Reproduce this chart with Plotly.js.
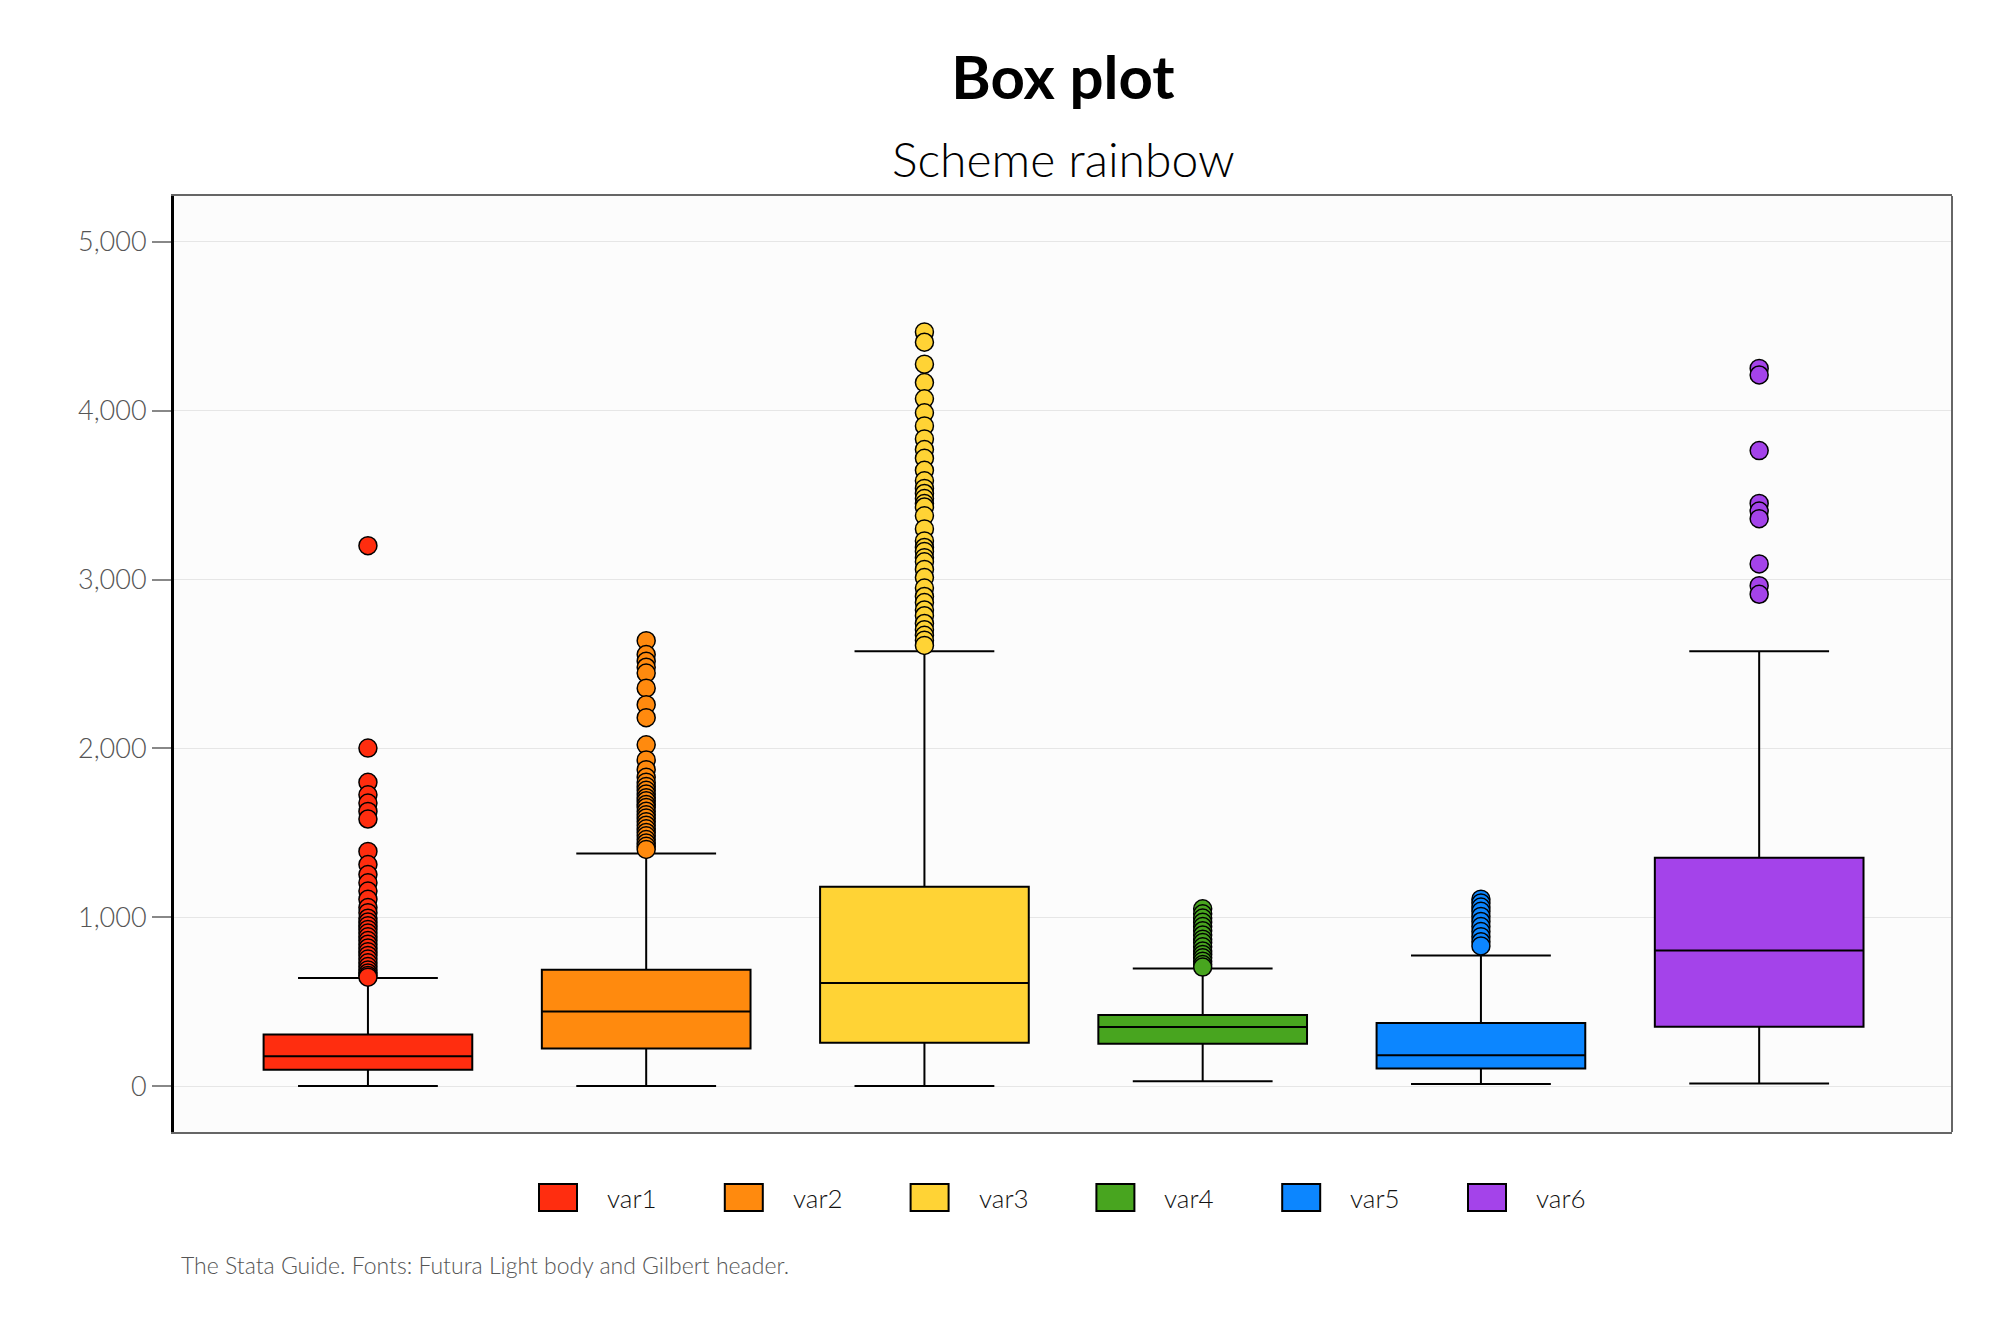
<!DOCTYPE html>
<html>
<head>
<meta charset="utf-8">
<script src="https://cdn.plot.ly/plotly-3.0.1.min.js"></script>
<style>html,body{margin:0;padding:0;background:#fff;}#chart{width:2000px;height:1333px;}</style>
</head>
<body>
<div id="chart"></div>
<script>
// Categories and colours
var categories = ['var1', 'var2', 'var3', 'var4', 'var5', 'var6'];
var colors = ['#FF2D0F', '#FF8A0E', '#FFD335', '#48A51F', '#0C86FF', '#A443EA'];

// Box statistics
var lowerFence = [0, 0, 0, 28, 12, 15];
var q1Values = [97, 222, 257, 251, 104, 352];
var medianValues = [177, 442, 610, 350, 182, 803];
var q3Values = [305, 689, 1180, 421, 373, 1352];
var upperFence = [640, 1377, 2576, 697, 773, 2576];

// Outside values
var outliers1 = [3201, 2002, 1799, 1725, 1676, 1627, 1582, 1390, 1312, 1253, 1204, 1155, 1106, 1057, 1027,
  994, 972, 950, 928, 906, 884, 862, 840, 818, 796, 774, 752, 730, 708, 688, 670, 655, 645];
var outliers2 = [2638, 2556, 2516, 2481, 2446, 2357, 2259, 2182, 2021, 1932, 1874, 1829, 1800, 1775, 1752,
  1730, 1708, 1690, 1668, 1650, 1628, 1607, 1588, 1566, 1545, 1524, 1502, 1482, 1460, 1440, 1420, 1402];
var outliers3 = [4467, 4406, 4276, 4167, 4071, 3988, 3910, 3833, 3770, 3718, 3647, 3585, 3540, 3510, 3480,
  3450, 3430, 3378, 3300, 3229, 3190, 3167, 3130, 3105, 3060, 3012, 2950, 2900, 2864, 2820, 2786, 2740,
  2703, 2670, 2641, 2610];
var outliers4 = [1050, 1020, 995, 970, 945, 920, 895, 870, 850, 825, 800, 780, 760, 740, 720, 705];
var outliers5 = [1107, 1085, 1060, 1035, 1005, 975, 945, 915, 885, 855, 830];
var outliers6 = [4251, 4212, 3764, 3451, 3406, 3361, 3093, 2964, 2913];
var outlierSets = [outliers1, outliers2, outliers3, outliers4, outliers5, outliers6];

// Axis ticks
var yTickValues = [0, 1000, 2000, 3000, 4000, 5000];
var yTickLabels = ['0', '1,000', '2,000', '3,000', '4,000', '5,000'];

var FONT = 'Lato, "Open Sans", sans-serif';

// Page geometry (pixels)
var W = 2000, H = 1333;
var M = { l: 174, r: 48, t: 196, b: 201 };
var plotW = W - M.l - M.r, plotH = H - M.t - M.b;
function px2x(px) { return (px - M.l) / plotW; }
function py2y(py) { return (H - M.b - py) / plotH; }

var traces = [];
categories.forEach(function (cat, i) {
  traces.push({
    type: 'box',
    name: cat,
    x: [cat],
    q1: [q1Values[i]],
    median: [medianValues[i]],
    q3: [q3Values[i]],
    lowerfence: [lowerFence[i]],
    upperfence: [upperFence[i]],
    boxpoints: false,
    width: 0.75,
    whiskerwidth: 0.67,
    fillcolor: colors[i],
    line: { color: '#000000', width: 2 },
    marker: { color: colors[i] },
    hoverinfo: 'skip',
    showlegend: false
  });
});
categories.forEach(function (cat, i) {
  traces.push({
    type: 'scatter',
    mode: 'markers',
    x: outlierSets[i].map(function () { return cat; }),
    y: outlierSets[i],
    marker: { symbol: 'circle', size: 18, color: colors[i], line: { color: '#000000', width: 1.5 } },
    showlegend: false,
    hoverinfo: 'skip'
  });
});

// Legend (drawn as layout decoration from categories/colors)
var shapes = [
  { type: 'line', xref: 'paper', yref: 'paper', x0: 1, x1: 1, y0: 0, y1: 1,
    line: { color: '#666666', width: 2 } }
];
var annotations = [
  { text: 'Scheme rainbow', xref: 'paper', yref: 'paper', x: 0.5, y: py2y(159),
    xanchor: 'center', yanchor: 'middle', showarrow: false,
    font: { family: FONT, size: 48, color: '#000', weight: 300 } },
  { text: 'The Stata Guide. Fonts: Futura Light body and Gilbert header.', xref: 'paper', yref: 'paper',
    x: px2x(179), y: py2y(1265), xanchor: 'left', yanchor: 'middle', showarrow: false,
    font: { family: FONT, size: 23, color: '#555555', weight: 300 } }
];
var legStart = 539, legStep = 185.8, swW = 38, swTop = 1184, swBot = 1211;
categories.forEach(function (cat, i) {
  var x0 = legStart + i * legStep;
  shapes.push({
    type: 'rect', xref: 'paper', yref: 'paper',
    x0: px2x(x0), x1: px2x(x0 + swW), y0: py2y(swBot), y1: py2y(swTop),
    fillcolor: colors[i], line: { color: '#000000', width: 2 }
  });
  annotations.push({
    text: cat, xref: 'paper', yref: 'paper', x: px2x(x0 + swW + 28), y: py2y((swTop + swBot) / 2),
    xanchor: 'left', yanchor: 'middle', showarrow: false,
    font: { family: FONT, size: 26, color: '#111111', weight: 300 }
  });
});

var layout = {
  width: W,
  height: H,
  paper_bgcolor: '#ffffff',
  plot_bgcolor: '#fcfcfc',
  margin: M,
  showlegend: false,
  font: { family: FONT, color: '#333' },
  title: {
    text: '<b>Box plot</b>',
    font: { family: FONT, size: 60, color: '#000' },
    x: 0.5, xref: 'paper', xanchor: 'center',
    y: 1 - 78 / H, yref: 'container', yanchor: 'middle'
  },
  boxmode: 'overlay',
  xaxis: {
    type: 'category',
    categoryarray: categories,
    range: [-0.697, 5.693],
    showticklabels: false,
    ticks: '',
    showgrid: false,
    zeroline: false,
    showline: true,
    mirror: true,
    linecolor: '#666666',
    linewidth: 2,
    fixedrange: true
  },
  yaxis: {
    range: [-272, 5272],
    tickvals: yTickValues,
    ticktext: yTickLabels,
    ticks: 'outside',
    ticklen: 19,
    tickwidth: 2,
    tickcolor: '#888888',
    tickfont: { family: FONT, size: 27, color: '#555555', weight: 300 },
    showgrid: true,
    gridcolor: '#e6e6e6',
    gridwidth: 1,
    zeroline: false,
    showline: true,
    linecolor: '#000000',
    linewidth: 3,
    fixedrange: true
  },
  shapes: shapes,
  annotations: annotations
};

Plotly.newPlot('chart', traces, layout, { displayModeBar: false, staticPlot: true });
</script>
</body>
</html>
